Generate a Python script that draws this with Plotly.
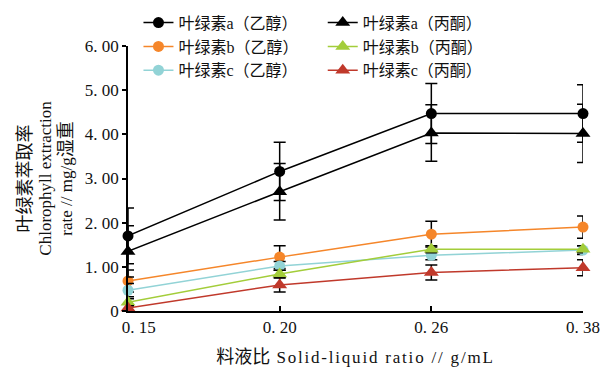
import plotly.graph_objects as go

ratios = ["0.15", "0.20", "0.26", "0.38"]
xticktext = ['<span style="font-size:17px">\u2003\u00a0</span>0. 15', "0. 20", "0. 26", "0. 38"]

chl_a_eth = [1.70, 3.16, 4.47, 4.47]
chl_a_eth_err = [0.63, 0.66, 0.68, 0.65]
chl_b_eth = [0.68, 1.22, 1.74, 1.90]
chl_b_eth_err = [0.25, 0.26, 0.29, 0.25]
chl_c_eth = [0.47, 1.02, 1.26, 1.38]
chl_c_eth_err = [0.15, 0.10, 0.10, 0.10]

chl_a_ace = [1.35, 2.70, 4.03, 4.02]
chl_a_ace_err = [0.58, 0.64, 0.64, 0.66]
chl_b_ace = [0.20, 0.84, 1.40, 1.40]
chl_b_ace_err = [0.08, 0.08, 0.08, 0.08]
chl_c_ace = [0.07, 0.59, 0.87, 0.98]
chl_c_ace_err = [0.05, 0.16, 0.17, 0.18]

yticks = [0, 1, 2, 3, 4, 5, 6]
yticktext = ["0", "1. 00", "2. 00", "3. 00", "4. 00", "5. 00", "6. 00"]

FONT = "Liberation Serif, Noto Sans CJK SC, serif"

series = [
    ("叶绿素a（乙醇）", chl_a_eth, chl_a_eth_err, "#000000", "circle", "legend"),
    ("叶绿素b（乙醇）", chl_b_eth, chl_b_eth_err, "#f5862a", "circle", "legend"),
    ("叶绿素c（乙醇）", chl_c_eth, chl_c_eth_err, "#92d3d6", "circle", "legend"),
    ("叶绿素a（丙酮）", chl_a_ace, chl_a_ace_err, "#000000", "triangle-up", "legend2"),
    ("叶绿素b（丙酮）", chl_b_ace, chl_b_ace_err, "#a3cd3a", "triangle-up", "legend2"),
    ("叶绿素c（丙酮）", chl_c_ace, chl_c_ace_err, "#c0392b", "triangle-up", "legend2"),
]

fig = go.Figure()
for name, vals, err, color, sym, leg in series:
    fig.add_trace(go.Scatter(
        x=ratios, y=vals, name=name, mode="lines+markers",
        line=dict(color=color, width=1.5),
        marker=dict(color=color, symbol=sym, size=13 if sym != "circle" else 11),
        error_y=dict(type="data", array=err, visible=True, color="#000000",
                     thickness=1.5, width=6),
        cliponaxis=False, legend=leg,
    ))

cjk = lambda s: '<span style="font-size:18px">' + s + '</span>'
lat = lambda s: '<span style="font-size:17px">' + s + '</span>'
latw = lambda s: '<span style="font-size:17px;letter-spacing:1.8px">' + s + '</span>'

ytitle = (cjk("叶绿素萃取率") + "<br>" + lat("Chlorophyll extraction") + "<br>"
          + lat("rate // mg/g") + cjk("湿重"))
xtitle = cjk("料液比") + latw(" Solid-liquid ratio // g/mL")

fig.update_layout(
    width=600, height=367,
    margin=dict(l=128, r=17, t=46, b=56, autoexpand=False),
    paper_bgcolor="white", plot_bgcolor="white",
    font=dict(family=FONT, size=17, color="#111111"),
    legend=dict(x=0.023, y=1.152, xanchor="left", yanchor="top",
                font=dict(size=16, family=FONT), bgcolor="rgba(0,0,0,0)",
                tracegroupgap=0, itemwidth=30),
    legend2=dict(x=0.428, y=1.152, xanchor="left", yanchor="top",
                 font=dict(size=16, family=FONT), bgcolor="rgba(0,0,0,0)",
                 tracegroupgap=0, itemwidth=30),
    xaxis=dict(type="category", range=[0, 3], tickvals=ratios, ticktext=xticktext,
               showline=True, linecolor="#000", automargin=False,
               linewidth=1.5, ticks="inside", ticklen=5, tickcolor="#000",
               tickwidth=1.5, showgrid=False, zeroline=False,
               tickfont=dict(size=17, family=FONT),
               title=dict(text=xtitle, standoff=20, font=dict(size=16, family=FONT))),
    yaxis=dict(range=[0, 6], tickvals=yticks, ticktext=yticktext, showline=True,
               linecolor="#000", linewidth=1.5, ticks="outside", ticklen=4,
               tickcolor="#000", tickwidth=1.5, showgrid=False, zeroline=False,
               automargin=False, tickfont=dict(size=17, family=FONT),
               title=dict(text=ytitle, standoff=8, font=dict(size=16, family=FONT))),
)

fig.write_html("out.html")
